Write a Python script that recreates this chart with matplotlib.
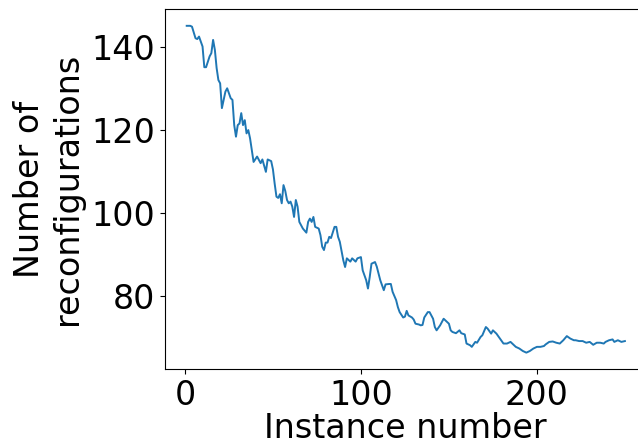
import numpy as np
import matplotlib
matplotlib.use("Agg")
import matplotlib.pyplot as plt

# Instance numbers and number of reconfigurations
instance = [1, 2, 3, 4, 6, 7, 8, 10, 11, 12, 14, 15, 16, 17, 18, 19, 20, 21, 23, 24,
            26, 27, 28, 29, 30, 31, 32, 33, 34, 35, 36, 37, 39, 41, 43, 44, 46, 47, 49, 50,
            51, 52, 53, 54, 55, 56, 57, 58, 59, 60, 61, 62, 63, 64, 65, 67, 69, 70, 71, 72,
            73, 74, 76, 77, 78, 79, 80, 81, 82, 83, 85, 86, 87, 88, 90, 91, 92, 94, 95, 96,
            97, 98, 100, 101, 103, 104, 105, 106, 108, 109, 111, 113, 114, 116, 117, 118, 120, 121, 122, 124,
            125, 126, 127, 129, 130, 131, 133, 134, 135, 136, 138, 139, 141, 142, 143, 145, 147, 150, 151, 152,
            154, 156, 157, 159, 160, 162, 163, 165, 166, 168, 169, 171, 172, 174, 175, 177, 179, 181, 183, 185,
            186, 188, 190, 192, 194, 196, 198, 200, 202, 204, 205, 207, 209, 211, 213, 215, 217, 219, 221, 222,
            224, 226, 228, 230, 232, 234, 236, 238, 239, 241, 243, 244, 246, 248, 250]
reconfigs = [145.2, 145.2, 145.2, 145.0, 142.2, 142.0, 142.6, 140.2, 135.2, 135.2,
             137.8, 138.6, 141.8, 139.4, 135.0, 132.1, 131.3, 125.3, 129.3, 130.1,
             127.7, 127.3, 121.2, 118.4, 121.2, 121.6, 124.1, 121.2, 122.4, 119.2,
             120.0, 118.0, 112.3, 113.6, 112.0, 112.9, 109.9, 112.9, 112.5, 110.5,
             107.0, 103.9, 103.6, 104.5, 102.3, 106.7, 105.3, 103.1, 102.3, 102.7,
             101.5, 99.0, 103.1, 101.5, 97.8, 96.2, 95.2, 97.8, 98.6, 97.8,
             99.0, 96.6, 96.2, 94.6, 91.8, 91.0, 92.8, 92.8, 94.2, 93.9,
             96.6, 96.6, 94.2, 93.0, 88.5, 86.9, 89.0, 88.2, 89.0, 88.6,
             88.2, 89.0, 89.3, 86.1, 83.7, 81.7, 84.5, 87.7, 88.1, 87.0,
             83.7, 81.3, 82.7, 82.8, 82.8, 80.9, 78.9, 77.2, 76.0, 74.7,
             74.9, 76.3, 75.2, 74.7, 74.2, 73.2, 73.0, 72.8, 72.9, 74.7,
             76.0, 76.0, 74.4, 72.4, 71.6, 72.8, 74.4, 73.2, 71.6, 71.2,
             70.9, 71.6, 70.9, 70.6, 68.4, 68.0, 67.6, 68.8, 68.6, 70.0,
             70.4, 72.4, 72.0, 70.8, 71.6, 70.8, 69.6, 68.4, 68.4, 68.8,
             68.4, 67.6, 67.2, 66.6, 66.2, 66.6, 67.2, 67.6, 67.6, 67.8,
             68.2, 68.8, 68.9, 68.6, 68.4, 69.2, 70.2, 69.6, 69.2, 69.2,
             69.0, 69.0, 68.6, 68.8, 68.1, 68.6, 68.6, 68.4, 68.8, 69.2,
             69.4, 68.8, 69.2, 68.8, 69.0]

x_ticks = [0, 100, 200]
y_ticks = [80, 100, 120, 140]

fig = plt.figure(figsize=(6.38, 4.45), dpi=100)
# right spine falls outside the picture, as in the cropped original
ax = fig.add_axes([0.2583, 0.1708, 0.7555, 0.8079])
ax.plot(instance, reconfigs, color="#1f77b4", linewidth=1.4)

ax.set_xticks(x_ticks)
ax.set_yticks(y_ticks)
ax.tick_params(labelsize=24)
ax.set_xlabel("Instance number", fontsize=24, labelpad=0)
ax.set_ylabel("Number of\nreconfigurations", fontsize=24, labelpad=5)

fig.savefig("out.png", dpi=100)
